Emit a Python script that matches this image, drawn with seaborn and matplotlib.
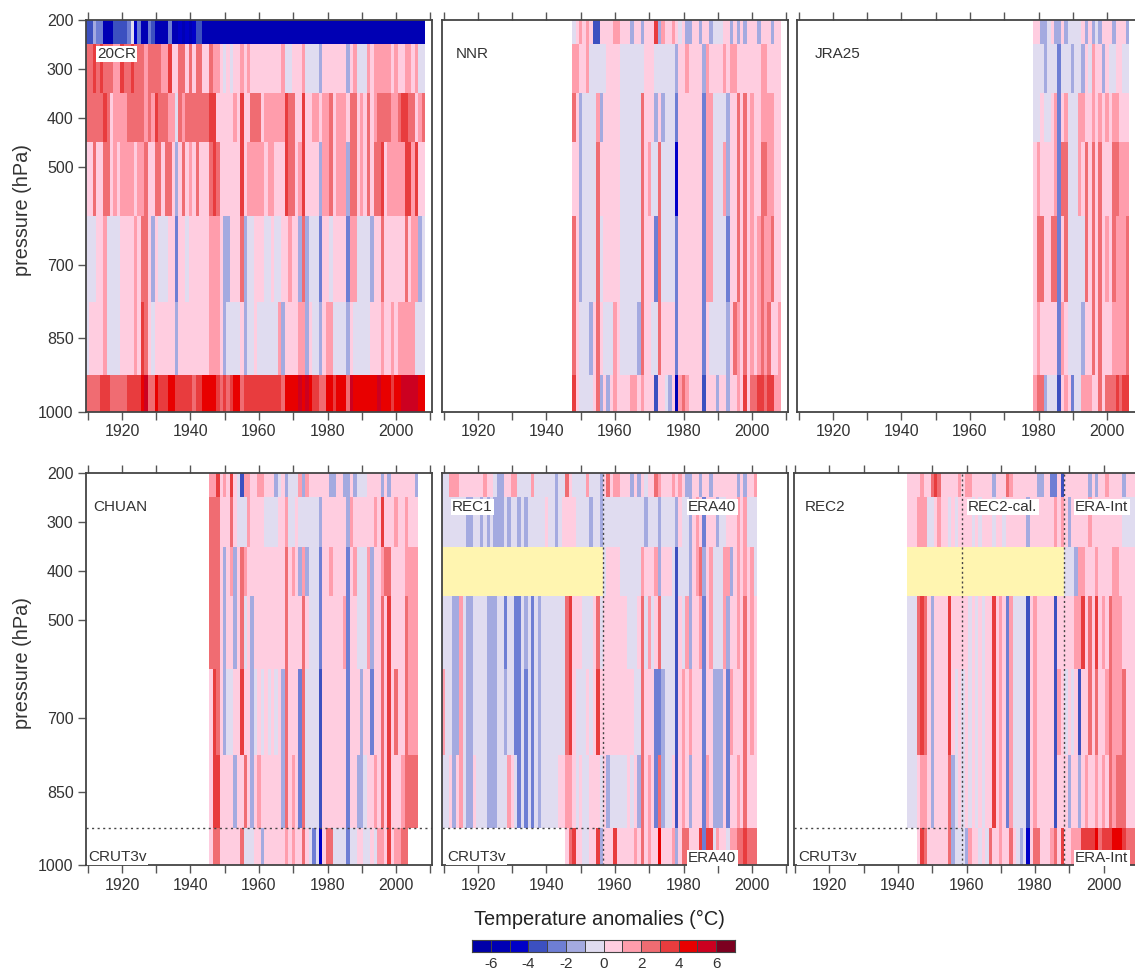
import numpy as np
import pandas as pd
import matplotlib
matplotlib.use("Agg")
import matplotlib.pyplot as plt
from matplotlib.colors import ListedColormap, BoundaryNorm
import seaborn as sns

WIDTH, HEIGHT = 1135, 971

# pressure layers (hPa) and year range shared by all panels
layer_edges = [200, 250, 350, 450, 600, 775, 925, 1000]
years = list(range(1910, 2011))
pressure_ticks = [200, 300, 400, 500, 700, 850, 1000]
year_labels = [1920, 1940, 1960, 1980, 2000]

# colour classes, one per degree from -7 to 7
class_colors = ['#0000a8', '#0000b4', '#0000c8', '#3c50c0', '#6e7ed4', '#a4aae0', '#e0dcf0',
                '#ffcde0', '#ff9dac', '#f06c72', '#e83c3e', '#e80000', '#cc0020', '#7c0020']
class_edges = list(range(-7, 8))
bar_ticks = [-6, -4, -2, 0, 2, 4, 6]

# anomaly class per year, per layer: 1 = 0..1 C, 2 = 1..2 C, -1 = -1..0 C and so on
cr20_starts = [1910] * 7
cr20 = [
    [-4,-4,-2,-3,-3,-6,-6,-6,-4,-4,-4,-4,-3,-1,-5,-3,-6,-6,-3,-4,-6,-6,-6,-6,-3,-6,-6,-5,-6,-5,-6,-5,-4,-4,
     -6,-6,-6,-6,-6,-6,-6,-6,-6,-6,-6,-6,-6,-6,-6,-6,-6,-6,-6,-6,-6,-6,-6,-6,-6,-6,-6,-6,-6,-6,-6,
     -6,-6,-6,-6,-6,-6,-6,-6,-6,-6,-6,-6,-6,-6,-6,-6,-6,-6,-6,-6,-6,-6,-6,-6,-6,-6,-6,-6,-6,-6,-6,-6,-6,-6],
    [3,3,4,3,4,3,3,3,2,2,4,3,3,4,3,3,3,2,3,3,3,3,2,2,4,1,1,3,3,1,3,1,3,3,1,1,3,2,2,1,-1,1,-1,1,1,2,1,2,1,
     1,1,1,1,1,1,1,1,2,-1,-1,1,1,1,2,-1,-1,-1,-1,-2,1,1,1,1,1,1,1,-2,1,2,-1,-1,-1,2,1,2,2,2,2,2,1,2,1,1,2,2,1,2,-1,-1],
    [3,3,3,3,3,4,3,1,2,2,2,2,3,3,3,3,3,2,3,2,4,3,3,3,2,2,-1,3,2,3,3,3,3,3,3,3,4,4,1,1,1,1,1,2,1,4,1,1,3,
     3,3,1,2,2,2,2,2,2,4,3,3,1,1,4,1,1,2,2,1,2,2,3,1,2,2,2,1,3,3,1,2,1,3,1,2,3,3,3,3,2,2,3,4,4,3,3,1,2,3],
    [1,1,3,1,1,3,3,1,2,1,2,2,2,2,1,2,2,3,1,1,3,3,1,3,3,1,-2,1,3,1,2,1,3,1,1,1,3,4,3,1,1,1,1,1,1,4,1,2,2,
     2,2,2,1,2,2,1,1,1,4,3,3,1,2,4,1,1,1,1,-2,2,2,3,1,2,2,2,-2,3,3,1,2,1,3,1,3,3,4,1,2,2,2,2,2,4,4,2,4,1,1],
    [-1,-1,-1,1,1,2,-1,-1,-1,-1,1,1,1,1,2,1,3,3,1,-2,1,-1,-1,-1,1,1,-3,1,1,-1,1,1,1,1,1,1,2,2,2,1,-2,-2,1,1,1,3,-2,-1,-1,
     1,1,1,-1,-1,1,-1,-1,1,1,2,1,1,-2,3,-2,-1,-1,-1,-3,1,1,-1,1,1,1,1,-3,2,2,-1,-1,-1,-1,-2,1,1,3,1,1,1,1,1,1,3,1,2,2,-2,-1],
    [-1,1,1,1,1,2,-1,-1,-1,-1,1,1,1,1,2,1,4,3,1,-1,1,1,1,1,1,1,-2,1,1,1,1,1,1,1,1,1,2,2,2,1,-2,-1,-1,-1,-1,1,-2,-1,-1,
     1,-1,-1,-1,-1,-1,-1,2,-2,1,1,1,1,2,2,-2,1,-1,-1,-2,1,2,2,-1,-1,-1,-1,-2,1,-1,-1,-1,-1,-1,1,1,1,2,1,1,2,1,2,2,2,2,2,-1,-1,-1],
    [3,3,3,3,4,4,4,3,3,3,3,3,4,4,4,4,5,6,3,3,5,4,4,4,5,5,4,4,4,4,4,3,4,4,5,5,5,5,4,3,4,3,4,5,5,3,4,4,4,
     4,4,4,4,4,4,4,4,3,5,5,5,5,6,5,6,5,4,4,3,3,5,5,4,5,5,5,3,6,5,5,5,5,5,5,5,6,5,5,5,4,5,5,6,6,6,6,6,5,5],
]

nnr_starts = [1948] * 7
nnr = [
    [-1,1,2,1,2,1,-4,-4,1,1,1,1,2,2,1,1,1,-2,1,1,-2,1,1,1,4,-2,2,1,1,2,1,-1,1,-2,-2,1,1,-2,1,1,-2,-1,-1,-1,1,1,-2,1,-2,1,-2,1,1,1,-2,1,1,1,-2,1,1],
    [2,2,1,1,2,-1,-1,-1,-1,-1,1,1,1,1,-1,-1,-1,-1,-1,-1,-1,1,1,1,-1,-1,-1,-1,-1,-1,-2,1,1,2,1,1,1,1,-2,2,1,1,1,1,2,1,2,2,1,1,1,1,1,1,1,2,2,1,1,1,1],
    [3,1,-2,-1,-1,-1,-1,2,-2,1,1,1,1,1,-1,-1,-1,-1,-1,-1,3,1,1,1,-2,1,-2,-1,-1,-1,-3,1,1,1,1,1,1,1,-3,2,2,-1,-1,-1,-1,-2,1,1,3,1,3,1,2,1,1,2,2,2,2,1,1],
    [1,1,-2,-1,-1,-1,-1,3,1,1,1,1,1,1,-1,-1,-1,-1,-1,-1,3,1,2,-1,-1,3,-1,-1,-1,-1,-5,1,1,1,1,1,1,1,-3,2,2,-1,-1,-1,2,-2,1,1,3,1,3,1,2,1,1,3,3,2,2,1,1],
    [3,1,-2,-1,-1,-1,-1,3,-1,1,1,1,1,1,-1,-1,-1,-1,-1,-1,3,1,1,1,-3,3,-1,-1,-1,-1,-3,1,1,1,1,1,1,1,-3,2,2,-1,-1,-1,-1,-3,1,1,3,1,3,1,2,1,2,3,2,2,3,1,1],
    [3,1,-1,-1,-1,-2,1,3,1,-1,-1,-1,2,1,-1,-1,-1,-1,-1,-2,3,1,1,-1,-1,3,1,1,1,1,-3,1,1,1,1,1,1,1,-3,1,-1,-1,-1,-1,-1,-2,1,3,2,1,3,1,2,1,2,3,2,3,1,1,2],
    [4,1,-1,-1,-1,-1,1,3,-2,1,-2,1,2,1,1,1,1,2,2,1,2,1,1,1,-4,1,1,-1,-2,1,-6,2,3,2,1,1,1,1,-4,1,1,1,-2,1,1,-2,1,1,2,1,4,1,3,3,4,4,3,4,4,2,2],
]

jra25_starts = [1979] * 7
jra25 = [
    [1,1,-2,-2,-1,1,-2,-2,1,-2,-1,-1,-1,-1,1,-2,1,-2,-1,-2,1,1,1,-2,1,1,1,-2],
    [-1,-1,-1,-2,-1,-1,-1,-3,-1,-1,-1,-2,-1,-1,-2,1,-1,2,1,1,-2,1,-1,-1,1,1,-1,-1],
    [-1,-1,1,-1,-1,1,2,-3,1,2,-1,-1,-1,2,2,1,1,2,1,2,1,2,1,2,2,1,1,1],
    [1,2,1,1,1,1,2,-3,3,3,-1,-1,-1,2,1,3,1,3,1,3,1,1,1,3,3,2,2,2],
    [1,3,3,1,1,3,3,-3,1,3,-1,-1,-1,-1,-1,3,1,3,1,3,1,2,1,3,2,2,2,3],
    [1,2,1,1,1,1,1,-3,2,1,-1,-1,-1,-1,-2,1,1,3,1,3,1,1,1,2,2,2,2,3],
    [2,3,3,-2,-1,-1,-1,-4,1,2,1,-3,-1,-1,2,2,2,1,1,3,1,3,3,3,4,3,4,4],
]

chuan_starts = [1946] * 7
chuan = [
    [2,2,4,1,2,1,4,1,-1,-4,2,2,1,1,2,2,1,1,1,-2,-1,1,-2,-1,-1,-1,2,-2,2,1,1,1,1,1,1,-2,-2,1,1,-2,-2,1,-2,-1,-1,-1,1,1,1,1,-2,1,-2,1,1,1,1,1,1,1,-2],
    [3,3,3,1,1,1,3,1,-1,-1,-1,2,1,1,1,1,-1,-1,-1,-1,1,1,2,-1,-1,1,-1,-1,-1,-1,-1,-1,-2,1,1,1,1,1,1,1,-2,2,1,1,1,1,1,1,2,1,4,1,1,1,2,1,1,2,1,1,1],
    [3,3,3,1,-2,1,2,-2,1,3,2,1,1,1,1,1,1,1,1,1,1,1,3,1,2,1,-2,2,-2,-1,-1,-1,-3,1,1,2,1,1,1,1,-3,1,2,-1,-1,-1,2,-2,1,1,2,3,3,1,1,1,1,2,2,2,2],
    [3,3,3,1,-2,1,1,-2,1,3,-1,1,-2,1,1,1,1,1,1,1,1,1,3,1,1,1,1,3,1,-1,-1,-1,-3,1,1,1,1,1,1,2,-3,1,1,-1,-1,-1,2,-2,1,1,3,1,4,1,1,1,1,3,2,2,2],
    [1,4,3,1,-2,-1,-1,1,1,4,1,1,-2,-1,1,-1,1,-1,1,-1,1,-2,3,1,1,1,-3,3,-1,-1,-1,-1,-4,1,1,1,1,1,1,1,-3,1,1,1,-2,1,1,-3,1,1,3,1,4,1,3,1,1,3,2,2,2],
    [1,4,4,1,1,1,1,-2,1,1,3,1,-2,1,2,1,1,1,1,1,1,-2,3,1,2,1,-3,3,-1,-1,-1,-1,-4,1,1,1,1,1,1,1,-3,1,1,-2,-2,-1,1,1,2,1,3,1,4,1,1,1,2,3,3,3,3],
    [1,3,3,1,1,1,1,1,1,3,-1,-1,-1,1,1,-2,1,1,1,1,1,1,2,1,2,1,1,3,1,-1,-3,-1,-5,1,3,3,-1,-1,-1,-1,-3,-1,-1,1,1,-1,-1,1,-1,2,2,1,4,1,2,2,3,3],
]

rec1_starts = [1910, 1910, 1957, 1910, 1910, 1910, 1946]
rec1 = [
    [-1,-1,2,2,2,1,1,1,1,1,1,1,2,1,1,-1,-2,-2,1,1,2,2,-1,-1,-1,-1,2,-1,-1,-1,-1,-1,-1,-2,-1,-1,3,1,-1,-1,-1,-1,2,-1,-1,-1,-2,
     1,3,1,2,2,1,1,1,-2,1,-2,1,-1,1,1,3,2,1,1,1,2,1,2,1,-2,-2,1,1,-2,1,1,-2,1,1,1,1,1,1,1,-2,1,-2,1,1,2],
    [-1,-1,-1,-1,-1,-1,-1,-2,-2,-1,-1,-2,-1,-2,-1,-2,-2,-2,-1,-2,-1,-1,-2,-1,-2,-1,-1,-1,-1,-1,1,-1,-1,-2,-1,1,1,1,1,-1,-1,-1,-1,-2,-1,-1,-2,-1,-1,-1,
     -1,-1,-1,-1,-1,-1,-1,-1,-1,-2,-1,-1,-1,-2,-1,-1,-1,-1,-2,1,-1,-1,-2,1,2,1,-3,1,1,1,-2,-1,-1,1,1,1,2,1,2,-1,-1,-1],
    [-1,1,1,1,1,-1,-1,-1,-1,-1,-1,2,1,1,1,2,-2,1,1,1,-1,-4,-1,-1,-1,-2,1,2,3,-2,1,2,-1,-1,-1,2,2,-2,1,2,1,2,1,2,-1],
    [-1,-1,-1,-2,-2,2,-1,-2,-2,-1,-1,-1,-1,-2,-2,-2,-1,-1,-3,-1,-1,-3,-3,-1,-2,-1,-3,-1,-2,-1,-1,-1,-1,-1,-1,-1,3,4,1,1,1,-1,-1,-1,1,3,-1,1,1,1,
     1,1,1,1,-1,-1,-1,1,3,-1,2,-1,1,3,-1,-1,-1,-1,-4,1,-1,2,-2,1,1,2,-3,1,2,-1,-1,-1,2,-2,1,1,2,1,3,1,2,1],
    [2,-1,-1,-2,-2,2,-1,-2,-2,-1,-1,-1,-1,-2,-2,-2,-1,-1,-2,-1,-1,-3,-3,-1,-3,-1,-3,-1,-2,-1,-1,-1,-1,-1,-1,-1,3,4,1,-1,-1,-1,1,-1,1,4,1,1,1,1,
     1,1,1,1,1,1,-1,-1,3,1,1,1,-3,-3,-2,-1,-1,-1,-4,1,2,1,2,1,1,1,-3,1,1,-2,-2,-2,1,-3,2,1,1,1,3,1,2,1],
    [-1,-1,1,-2,1,2,-1,-2,-2,1,-1,-1,-1,-2,-2,-2,-1,-1,-1,2,1,-1,-3,-1,-3,-1,-3,-1,-2,-1,-1,-1,-1,-1,1,1,2,2,1,-1,1,-1,-1,1,1,1,-1,1,-2,-1,
     -1,-1,-1,-1,1,-1,1,-2,3,1,2,1,-3,3,-2,-1,-1,1,-4,1,2,1,-2,1,1,1,-3,2,1,-2,-2,-2,1,-3,1,1,2,1,3,1,1,1],
    [1,3,4,1,1,-1,-1,1,1,4,-2,1,1,1,4,1,1,1,1,1,2,1,3,1,2,1,1,5,1,1,1,2,-2,1,3,3,1,1,1,4,-3,4,4,-1,2,1,1,-1,2,2,3,3,4,3,3,3],
]

rec2_starts = [1943, 1943, 1989, 1943, 1943, 1943, 1946]
rec2 = [
    [1,1,1,1,2,1,1,3,4,3,1,1,1,1,1,2,1,2,2,1,1,1,1,1,1,-2,1,1,1,3,2,1,1,1,1,1,1,1,-2,-2,1,1,-3,-3,1,-4,1,1,1,1,1,1,1,-2,1,-2,1,1,2,1,1,1,1,-2,1,1,1],
    [1,1,1,2,2,2,-1,-1,1,2,1,1,-1,1,-1,1,1,1,1,-1,1,-1,1,1,1,-1,1,1,-1,1,1,1,1,1,1,-2,1,1,1,1,1,1,1,2,1,2,1,-2,1,1,1,1,1,2,1,1,1,1,1,1,1,1,1,-1,-1,-1,-1],
    [-1,-1,-1,-2,2,2,1,1,1,2,1,1,1,1,2,2,1,1,1,1,1],
    [-1,-1,-1,3,4,3,1,-2,1,1,1,1,4,1,1,1,1,1,-1,1,-1,1,-1,1,1,4,1,2,1,-3,2,-1,-1,-1,-1,-4,1,2,1,1,1,1,1,-4,1,1,1,1,1,2,2,4,1,3,1,4,1,2,1,3,2,2,2,1,1,1,1],
    [-1,-1,-1,3,4,3,1,-2,1,1,1,1,4,1,-1,1,-1,1,-1,1,-1,1,-1,1,1,4,1,2,1,-3,2,-1,-1,-1,-1,-4,1,2,1,1,1,1,1,-4,2,1,-1,1,-1,1,-4,1,1,3,1,3,1,1,2,3,2,2,2,3,1,1,1],
    [-1,-1,-1,1,2,2,1,-2,1,1,1,1,3,-2,-1,1,-1,1,-1,1,-1,1,-1,1,1,4,1,2,1,-3,2,-1,-1,-1,-1,-4,1,2,1,1,1,1,1,-4,1,1,1,-2,1,1,-2,1,2,1,1,2,1,2,1,3,2,3,3,3,1,1,1],
    [1,4,3,1,1,1,1,1,1,3,-2,-1,-1,-1,-2,2,1,1,-1,1,-1,3,1,1,2,1,1,3,1,-1,-2,-1,-5,1,3,3,1,1,1,2,3,1,4,1,1,2,2,2,4,4,4,4,5,3,4,4,4,5,5,5,4,3,3,3],
]

# years with no reconstruction above the surface layer (yellow band in the 350-450 layer)
rec1_gap = (1910, 1956)
rec2_gap = (1943, 1988)

panel_data = [cr20, nnr, jra25, chuan, rec1, rec2]
panel_starts = [cr20_starts, nnr_starts, jra25_starts, chuan_starts, rec1_starts, rec2_starts]
panel_gaps = [None, None, None, None, rec1_gap, rec2_gap]
# panel frames in pixels: left, top
panel_boxes = [(86, 20), (442, 20), (797, 20), (86, 473), (442, 473), (793.5, 473)]
PANEL_W, PANEL_H = 346, 392

# dotted year boundaries per panel, and how far the 925 hPa line runs
panel_vlines = [[], [], [], [], [1956.4], [1958.7, 1988.4]]
panel_hline_end = [None, None, None, 2010.5, 1956.4, 1958.7]

# label text, x pixel, y pixel
panel_labels = [
    ("20CR", 97, 54), ("NNR", 456, 54), ("JRA25", 815, 54),
    ("CHUAN", 93, 507), ("REC1", 452, 507), ("ERA40", 688, 507),
    ("REC2", 805, 507), ("REC2-cal.", 968, 507), ("ERA-Int", 1075, 507),
    ("CRUT3v", 88, 857), ("CRUT3v", 447, 857), ("ERA40", 688, 858),
    ("CRUT3v", 798, 857), ("ERA-Int", 1075, 858),
]

rows = list(range(200, 1000, 25))


def to_midpoint(values):
    """Turn class numbers into the centre of their one degree bin."""
    values = np.array(values, dtype=float)
    return values - 0.5 * np.sign(values)


def build_frame(levels, starts):
    frame = pd.DataFrame(np.nan, index=rows, columns=years)
    for i, values in enumerate(levels):
        top, bottom = layer_edges[i], layer_edges[i + 1]
        frame.loc[top:bottom - 25, starts[i]:starts[i] + len(values) - 1] = to_midpoint(values)
    return frame


def box_axes(fig, left, top, width, height):
    return fig.add_axes([left / WIDTH, 1 - (top + height) / HEIGHT, width / WIDTH, height / HEIGHT])


def year_pos(year):
    return year - years[0] + 0.5


def pressure_pos(p):
    return (p - rows[0]) / 25


sns.set_theme(style="ticks")
plt.rcParams['font.family'] = ['Liberation Sans', 'DejaVu Sans']
ink = '#333333'

cmap = ListedColormap(class_colors)
norm = BoundaryNorm(class_edges, cmap.N)

fig = plt.figure(figsize=(WIDTH / 100, HEIGHT / 100), dpi=100)

for n, (levels, starts) in enumerate(zip(panel_data, panel_starts)):
    ax = box_axes(fig, panel_boxes[n][0], panel_boxes[n][1], PANEL_W, PANEL_H)
    frame = build_frame(levels, starts)
    sns.heatmap(frame, cmap=cmap, norm=norm, cbar=False, ax=ax, xticklabels=False, yticklabels=False)

    if panel_gaps[n] is not None:
        gap = pd.DataFrame(np.nan, index=rows, columns=years)
        gap.loc[350:425, panel_gaps[n][0]:panel_gaps[n][1]] = 1.0
        sns.heatmap(gap, cmap=ListedColormap(['#fff5b0']), cbar=False, ax=ax, xticklabels=False, yticklabels=False)

    for spine in ax.spines.values():
        spine.set_visible(True)
        spine.set_linewidth(1.3)
        spine.set_color('#444444')

    ax.set_xticks([year_pos(y) for y in range(1910, 2011, 10)])
    ax.set_xticklabels([str(y) if y in year_labels else '' for y in range(1910, 2011, 10)],
                       rotation=0, fontsize=11.5, color=ink)
    ax.tick_params(axis='x', top=True, bottom=True, length=6, width=1, color='#555555', pad=3)
    if n in (0, 3):
        ax.set_yticks([pressure_pos(p) for p in pressure_ticks])
        ax.set_yticklabels([str(p) for p in pressure_ticks], rotation=0, fontsize=11.5, color=ink)
        ax.tick_params(axis='y', left=True, length=6, width=1, color='#555555', pad=3)
        ax.set_ylabel("pressure (hPa)", fontsize=14.3, color=ink)
        ax.yaxis.set_label_coords(-0.157, 0.515)
    else:
        ax.set_yticks([])
        ax.set_ylabel("")
    ax.set_xlabel("")

    for v in panel_vlines[n]:
        ax.axvline(year_pos(v), color='#444444', lw=1, ls=(0, (1.5, 2)))
    if panel_hline_end[n] is not None:
        ax.plot([0, year_pos(panel_hline_end[n])], [pressure_pos(925)] * 2,
                color='#444444', lw=1, ls=(0, (1.5, 2.5)))

for text, x, y in panel_labels:
    fig.text(x / WIDTH, 1 - y / HEIGHT, text, fontsize=11, color=ink, ha='left', va='center',
             bbox=dict(facecolor='white', edgecolor='none', pad=1.0))

fig.text(599 / WIDTH, 1 - 919 / HEIGHT, "Temperature anomalies (°C)", fontsize=14.4, color='#222222',
         ha='center', va='center')

# colour key drawn as a one row heatmap
key = pd.DataFrame([[c + 0.5 for c in class_edges[:-1]]], columns=class_edges[:-1])
cax = box_axes(fig, 472, 940, 263, 12)
sns.heatmap(key, cmap=cmap, norm=norm, cbar=False, ax=cax, xticklabels=False, yticklabels=False,
            linewidths=0.6, linecolor='#444444')
for spine in cax.spines.values():
    spine.set_visible(True)
    spine.set_linewidth(0.8)
    spine.set_color('#444444')
cax.set_xticks([t + 7 for t in bar_ticks])
cax.set_xticklabels([str(t) for t in bar_ticks], rotation=0, fontsize=11, color=ink)
cax.tick_params(axis='x', length=0, pad=3.5)
cax.set_yticks([])
cax.set_xlabel("")
cax.set_ylabel("")

fig.savefig("out.png", dpi=100)
